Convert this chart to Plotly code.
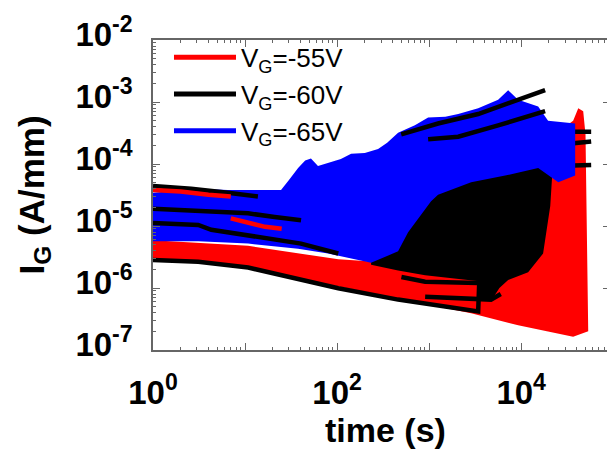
import plotly.graph_objects as go

# ---------------- data ----------------
# x tick labels / y tick labels
x_tickvals = [1, 10, 100, 1000, 10000]
x_ticktext = ["10<sup>0</sup>", "", "10<sup>2</sup>", "", "10<sup>4</sup>"]
y_tickvals = [1e-7, 1e-6, 1e-5, 1e-4, 1e-3, 1e-2]
y_ticktext = ["10<sup>-7</sup>", "10<sup>-6</sup>", "10<sup>-5</sup>",
              "10<sup>-4</sup>", "10<sup>-3</sup>", "10<sup>-2</sup>"]

series_names = ["V<sub>G</sub>=-55V", "V<sub>G</sub>=-60V", "V<sub>G</sub>=-65V"]
series_colors = ["#ff0000", "#000000", "#0000ff"]

# envelope of the dense, noisy V_G=-55V traces
red_up_t = [1, 10.8, 103, 760, 2650, 5620, 11900, 18200, 28600, 36700, 41700, 47200, 50000]
red_up_I = [5.9e-6, 4.8e-6, 2.9e-6, 2.4e-6, 4.3e-6, 3.0e-5, 1.2e-4, 3.8e-4, 3.8e-4, 5.0e-4, 7.9e-4, 7.1e-4, 3.0e-4]
red_lo_t = [1, 10.8, 103, 460, 2860, 9270, 36700, 53500]
red_lo_I = [3.0e-6, 2.07e-6, 1.06e-6, 6.7e-7, 3.9e-7, 2.5e-7, 1.64e-7, 2.0e-7]

# envelope of the dense, noisy V_G=-60V traces
black_up_t = [234, 460, 975, 2070, 5620, 11900, 19600, 22300]
black_up_I = [2.74e-6, 1.0e-5, 4.0e-5, 8.0e-5, 1.2e-4, 1.5e-4, 1.57e-4, 1.23e-4]
black_lo_t = [234, 460, 905, 3300, 3500, 4720, 5800, 7220, 11900, 17300, 20700]
black_lo_I = [2.38e-6, 1.92e-6, 1.61e-6, 1.3e-6, 6.5e-7, 6.2e-7, 1.0e-6, 1.35e-6, 1.8e-6, 3.6e-6, 2.1e-5]

# envelope of the dense, noisy V_G=-65V traces
blue_up_t = [1, 3.1, 6.5, 24.6, 30, 37.7, 45, 52, 62, 80, 110, 142, 200, 279, 350, 460,
             700, 975, 1500, 2070, 3410, 5620, 7220, 9270, 15300, 19600, 38600]
blue_up_I = [3.45e-5, 4.0e-5, 3.8e-5, 3.8e-5, 5.5e-5, 8.6e-5, 1.14e-4, 1.23e-4, 9.3e-5, 1.03e-4,
             1.2e-4, 1.46e-4, 1.5e-4, 1.75e-4, 2.2e-4, 3.2e-4, 4.2e-4, 5.6e-4, 5.8e-4, 6.4e-4,
             7.9e-4, 1.09e-3, 1.55e-3, 1.09e-3, 8.5e-4, 5.0e-4, 4.5e-4]
blue_lo_t = [1, 3.1, 10.8, 37.7, 80, 234, 460, 591, 1050, 1250, 2860, 6700, 15300, 25300, 38600]
blue_lo_I = [5.7e-6, 5.7e-6, 5.2e-6, 4.3e-6, 3.6e-6, 2.55e-6, 3.9e-6, 7.9e-6, 2.5e-5, 3.2e-5,
             5.1e-5, 6.5e-5, 8.6e-5, 5.1e-5, 6.5e-5]

# individual traces that stand out of the bundles
red_line1_t = [1, 2, 4, 7]
red_line1_I = [3.8e-5, 3.6e-5, 3.2e-5, 3.0e-5]
red_line2_t = [7, 16.5, 25]
red_line2_I = [1.33e-5, 9.7e-6, 9.0e-6]

black_top_t = [1, 2.6, 6.5, 13.8]
black_top_I = [4.4e-5, 4.0e-5, 3.45e-5, 3.0e-5]
black_a_t = [1, 3.1, 4.3, 40.6, 103]
black_a_I = [1.12e-5, 1.04e-5, 8.7e-6, 5.2e-6, 3.6e-6]
black_a2_t = [1, 3.1, 10.8, 21, 40.6]
black_a2_I = [1.9e-5, 1.77e-5, 1.6e-5, 1.4e-5, 1.24e-5]
black_b_t = [1, 3.1, 10.8, 37.7, 103, 460, 1250, 2860, 3410, 3500]
black_b_I = [2.84e-6, 2.64e-6, 2.14e-6, 1.40e-6, 9.9e-7, 6.5e-7, 5.2e-7, 4.4e-7, 4.2e-7, 1.2e-6]
black_c_t = [500, 905, 3400]
black_c_I = [1.5e-6, 1.26e-6, 1.2e-6]
black_d_t = [905, 3400, 4700, 6000]
black_d_I = [7.2e-7, 6.7e-7, 6.5e-7, 8.0e-7]
black_t1_t = [497, 1250, 3410, 7220, 11900, 18200]
black_t1_I = [3.0e-4, 4.5e-4, 6.4e-4, 9.5e-4, 1.25e-3, 1.55e-3]
black_t2_t = [975, 2070, 5620, 11900, 18200]
black_t2_I = [2.5e-4, 2.75e-4, 4.2e-4, 6.0e-4, 7.1e-4]
black_t3_t = [5620, 9270, 15300, 25300, 57600]
black_t3_I = [1.75e-4, 2.5e-4, 3.3e-4, 3.3e-4, 3.3e-4]
black_t4_t = [3410, 11900, 34900, 57600]
black_t4_I = [8.6e-5, 1.46e-4, 2.15e-4, 2.3e-4]
black_t5_t = [3410, 11900, 23400, 57600]
black_t5_I = [3.6e-5, 7.2e-5, 9.3e-5, 9.6e-5]

# ---------------- figure ----------------
FONT = "Liberation Sans, Arial, Helvetica, sans-serif"
RED, BLACK, BLUE = series_colors
fig = go.Figure()


def band(t_up, i_up, t_lo, i_lo, color):
    fig.add_trace(go.Scatter(
        x=list(t_up) + list(reversed(t_lo)),
        y=list(i_up) + list(reversed(i_lo)),
        fill="toself", fillcolor=color, mode="lines",
        line=dict(width=0, color=color), hoverinfo="skip", showlegend=False))


def line(t, i, color, width=4.5):
    fig.add_trace(go.Scatter(x=t, y=i, mode="lines",
                             line=dict(color=color, width=width),
                             hoverinfo="skip", showlegend=False))


band(red_up_t, red_up_I, red_lo_t, red_lo_I, RED)
band(black_up_t, black_up_I, black_lo_t, black_lo_I, BLACK)
line(black_t3_t, black_t3_I, BLACK)
line(black_t4_t, black_t4_I, BLACK)
line(black_t5_t, black_t5_I, BLACK)
band(blue_up_t, blue_up_I, blue_lo_t, blue_lo_I, BLUE)
line(black_top_t, black_top_I, BLACK)
line(black_a2_t, black_a2_I, BLACK)
line(black_a_t, black_a_I, BLACK)
line(red_line1_t, red_line1_I, RED)
line(red_line2_t, red_line2_I, RED)
line(black_t1_t, black_t1_I, BLACK)
line(black_t2_t, black_t2_I, BLACK)
line(black_b_t, black_b_I, BLACK)
line(black_c_t, black_c_I, BLACK)
line(black_d_t, black_d_I, BLACK)

# legend entries (one per gate voltage)
for k, (name, col) in enumerate(zip(series_names, series_colors)):
    fig.add_trace(go.Scatter(x=[None], y=[None], mode="lines", name=name,
                             line=dict(color=col, width=5), legendrank=k + 1))

axis_common = dict(
    type="log", showgrid=False, zeroline=False,
    showline=True, linecolor="#666666", linewidth=1.5, mirror="allticks",
    ticks="inside", ticklen=7, tickwidth=1.2, tickcolor="#666666",
    minor=dict(ticks="inside", ticklen=3.5, tickwidth=1, tickcolor="#666666",
               dtick="D1", showgrid=False),
    tickfont=dict(family=FONT, size=33, color="black", weight="bold"),
    ticklabeloverflow="allow",
)

fig.update_xaxes(axis_common, range=[0, 4.965], tickmode="array",
                 tickvals=x_tickvals, ticktext=x_ticktext,
                 ticklabelstandoff=13)
fig.update_yaxes(axis_common, range=[-7, -2], tickmode="array",
                 tickvals=y_tickvals, ticktext=y_ticktext,
                 ticklabelstandoff=12, ticklabelshift=-6,
                 title=dict(text="I<sub>G</sub> (A/mm)", standoff=20,
                            font=dict(family=FONT, size=35, color="black", weight="bold")))

# x-axis title placed as an annotation for precise vertical placement
fig.add_annotation(text="time (s)", xref="paper", yref="paper",
                   x=0.508, y=-0.259, xanchor="center", yanchor="middle",
                   showarrow=False, borderpad=0,
                   font=dict(family=FONT, size=34, color="black", weight="bold"))

# the page body adds an 8 px offset, so the figure is 8 px smaller each way
fig.update_layout(
    width=607, height=441,
    margin=dict(l=145, r=3, t=17, b=99),
    paper_bgcolor="white", plot_bgcolor="white",
    legend=dict(x=0.035, y=1.02, xanchor="left", yanchor="top",
                bgcolor="rgba(0,0,0,0)", borderwidth=0,
                font=dict(family=FONT, size=26, color="black"),
                tracegroupgap=0, itemwidth=62),
)

fig.write_html("out.html")
